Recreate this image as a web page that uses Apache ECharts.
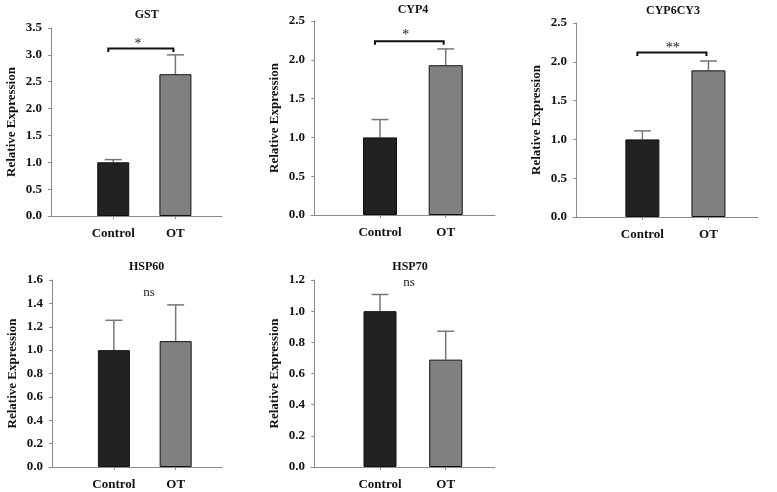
<!DOCTYPE html>
<html>
<head>
<meta charset="utf-8">
<script src="https://cdn.jsdelivr.net/npm/echarts@6/dist/echarts.min.js"></script>
<style>
  html, body { margin: 0; padding: 0; background: #fff; }
  #main { width: 777px; height: 492px; }
</style>
</head>
<body>
<div id="main"></div>
<script>
"use strict"

// data
var genes = ["GST", "CYP4", "CYP6CY3", "HSP60", "HSP70"];
var groups = ["Control", "OT"];
var controlMean = [1.0, 1.0, 1.0, 1.0, 1.0];
var controlErr = [0.05, 0.23, 0.11, 0.255, 0.107];
var otMean = [2.64, 1.93, 1.89, 1.077, 0.689];
var otErr = [0.36, 0.21, 0.12, 0.31, 0.182];
var yMax = [3.5, 2.5, 2.5, 1.6, 1.2];
var yStep = [0.5, 0.5, 0.5, 0.2, 0.2];
var sigText = ["*", "*", "**", "ns", "ns"];
var sigTextX = [1.40, 1.39, 1.46, 1.57, 1.44];
var sigTextY = [3.26, 2.355, 2.21, 1.49, 1.186];
var bracketY = [3.12, 2.24, 2.12, null, null];

// panel boxes (px)
var boxes = [
    {left: 48, top: 28, width: 174, height: 188},
    {left: 311, top: 21, width: 184, height: 194},
    {left: 573, top: 23, width: 185, height: 194},
    {left: 49, top: 280, width: 173, height: 187},
    {left: 311, top: 280, width: 184, height: 187}
];
var titlePos = [[146.7, 15], [413, 10], [673, 11], [146.7, 266.7], [410, 266.7]];
var barWidths = [32, 34, 34, 32, 33];

var FONT = "'Liberation Serif', 'Times New Roman', serif";
var axisGray = "#8a8a8a";

var grids = [], xAxes = [], yAxes = [], series = [], graphics = [];

for (let i = 0; i < genes.length; i++) {
    grids.push({left: boxes[i].left, top: boxes[i].top, width: boxes[i].width, height: boxes[i].height});

    xAxes.push({
        type: 'value',
        gridIndex: i,
        min: -0.05,
        max: 2.75,
        splitLine: {show: false},
        axisLine: {show: true, onZero: false, lineStyle: {color: axisGray, width: 1}},
        axisTick: {show: true, customValues: [1, 2], length: 3, lineStyle: {color: axisGray}},
        axisLabel: {
            customValues: [1, 2],
            margin: 11,
            formatter: function (v) { return groups[Math.round(v) - 1]; },
            fontFamily: FONT, fontWeight: 'bold', fontSize: 13, color: '#111'
        }
    });

    yAxes.push({
        type: 'value',
        gridIndex: i,
        min: 0,
        max: yMax[i],
        interval: yStep[i],
        name: 'Relative Expression',
        nameLocation: 'middle',
        nameRotate: 90,
        nameGap: 30,
        nameTextStyle: {fontFamily: FONT, fontWeight: 'bold', fontSize: 13, color: '#111'},
        splitLine: {show: false},
        axisLine: {show: true, lineStyle: {color: axisGray, width: 1}},
        axisTick: {show: true, length: 3, lineStyle: {color: axisGray}},
        axisLabel: {
            margin: 6,
            formatter: function (v) { return v.toFixed(1); },
            fontFamily: FONT, fontWeight: 'bold', fontSize: 13, color: '#111'
        }
    });

    series.push({
        type: 'bar',
        xAxisIndex: i,
        yAxisIndex: i,
        barWidth: barWidths[i],
        data: [
            {value: [1, controlMean[i]], itemStyle: {color: '#222222'}},
            {value: [2, otMean[i]], itemStyle: {color: '#808080'}}
        ],
        itemStyle: {borderColor: '#111', borderWidth: 1},
        silent: true
    });

    // upper error bars
    series.push({
        type: 'custom',
        xAxisIndex: i,
        yAxisIndex: i,
        silent: true,
        data: [[1, controlMean[i], controlErr[i]], [2, otMean[i], otErr[i]]],
        renderItem: function (params, api) {
            var x = api.value(0), m = api.value(1), e = api.value(2);
            var p0 = api.coord([x, m]);
            var p1 = api.coord([x, m + e]);
            var style = {stroke: '#777', lineWidth: 1.5};
            return {
                type: 'group',
                children: [
                    {type: 'line', shape: {x1: p0[0], y1: p0[1], x2: p1[0], y2: p1[1]}, style: style},
                    {type: 'line', shape: {x1: p1[0] - 8.5, y1: p1[1], x2: p1[0] + 8.5, y2: p1[1]}, style: style}
                ]
            };
        }
    });

    // significance marks
    series.push({
        type: 'custom',
        xAxisIndex: i,
        yAxisIndex: i,
        silent: true,
        clip: false,
        data: [[1, 2, bracketY[i] === null ? -1 : bracketY[i], sigTextX[i], sigTextY[i]]],
        renderItem: function (params, api) {
            var children = [];
            var by = api.value(2);
            var a = api.coord([api.value(0), by]);
            var b = api.coord([api.value(1), by]);
            var t = api.coord([api.value(3), api.value(4)]);
            var isStar = sigText[i].indexOf('*') >= 0;
            if (by >= 0) {
                var l = a[0] - 5, r = b[0] - 2, y = a[1];
                children.push({
                    type: 'polyline',
                    shape: {points: [[l, y + 3.5], [l, y], [r, y], [r, y + 3.5]]},
                    style: {stroke: '#111', lineWidth: 2, fill: null}
                });
            }
            children.push({
                type: 'text',
                x: t[0],
                y: t[1] + (isStar ? 3 : 0),
                style: {
                    text: sigText[i],
                    fontFamily: FONT,
                    fontSize: isStar ? 14 : 13,
                    fill: '#222',
                    align: 'center',
                    verticalAlign: 'middle'
                }
            });
            return {type: 'group', children: children};
        }
    });

    graphics.push({
        type: 'text',
        x: titlePos[i][0],
        y: titlePos[i][1],
        style: {
            text: genes[i],
            fontFamily: FONT,
            fontWeight: 'bold',
            fontSize: 12,
            fill: '#111',
            align: 'center',
            verticalAlign: 'middle'
        }
    });
}

var chart = echarts.init(document.getElementById('main'), null, {renderer: 'canvas'});
chart.setOption({
    backgroundColor: '#ffffff',
    animation: false,
    grid: grids,
    xAxis: xAxes,
    yAxis: yAxes,
    series: series,
    graphic: graphics
});
</script>
</body>
</html>
